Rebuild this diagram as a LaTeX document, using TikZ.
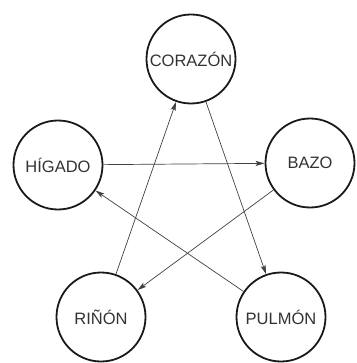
\documentclass[tikz,border=0pt]{standalone}
\usepackage{fontspec}
\setmainfont{Liberation Sans}
\usepackage{tikz}
\usetikzlibrary{arrows.meta}
\tikzstyle{organ}=[circle, draw=black!90, line width=1.8pt, minimum size=89pt, inner sep=0pt, fill=white, text=black!80, font=\fontsize{16.5}{16.5}\selectfont]
\tikzstyle{edge}=[-{Stealth[length=9pt, width=5pt, inset=2pt]}, draw=black!75, line width=0.7pt]

\begin{document}
\begin{tikzpicture}[x=1pt, y=-1pt]
\useasboundingbox (0,0) rectangle (356,363);
\draw (191,59) node[organ] (cor) {CORAZÓN};
\draw (58,165) node[organ] (hig) {HÍGADO};
\draw (310,163) node[organ] (baz) {BAZO};
\draw (101,317) node[organ] (rin) {RIÑÓN};
\draw (281,317) node[organ] (pul) {PULMÓN};

%The star of arrows
\draw[edge] (hig) -- (baz);
\draw[edge] (baz) -- (rin);
\draw[edge] (rin) -- (cor);
\draw[edge] (cor) -- (pul);
\draw[edge] (pul) -- (hig);
\end{tikzpicture}
\end{document}
